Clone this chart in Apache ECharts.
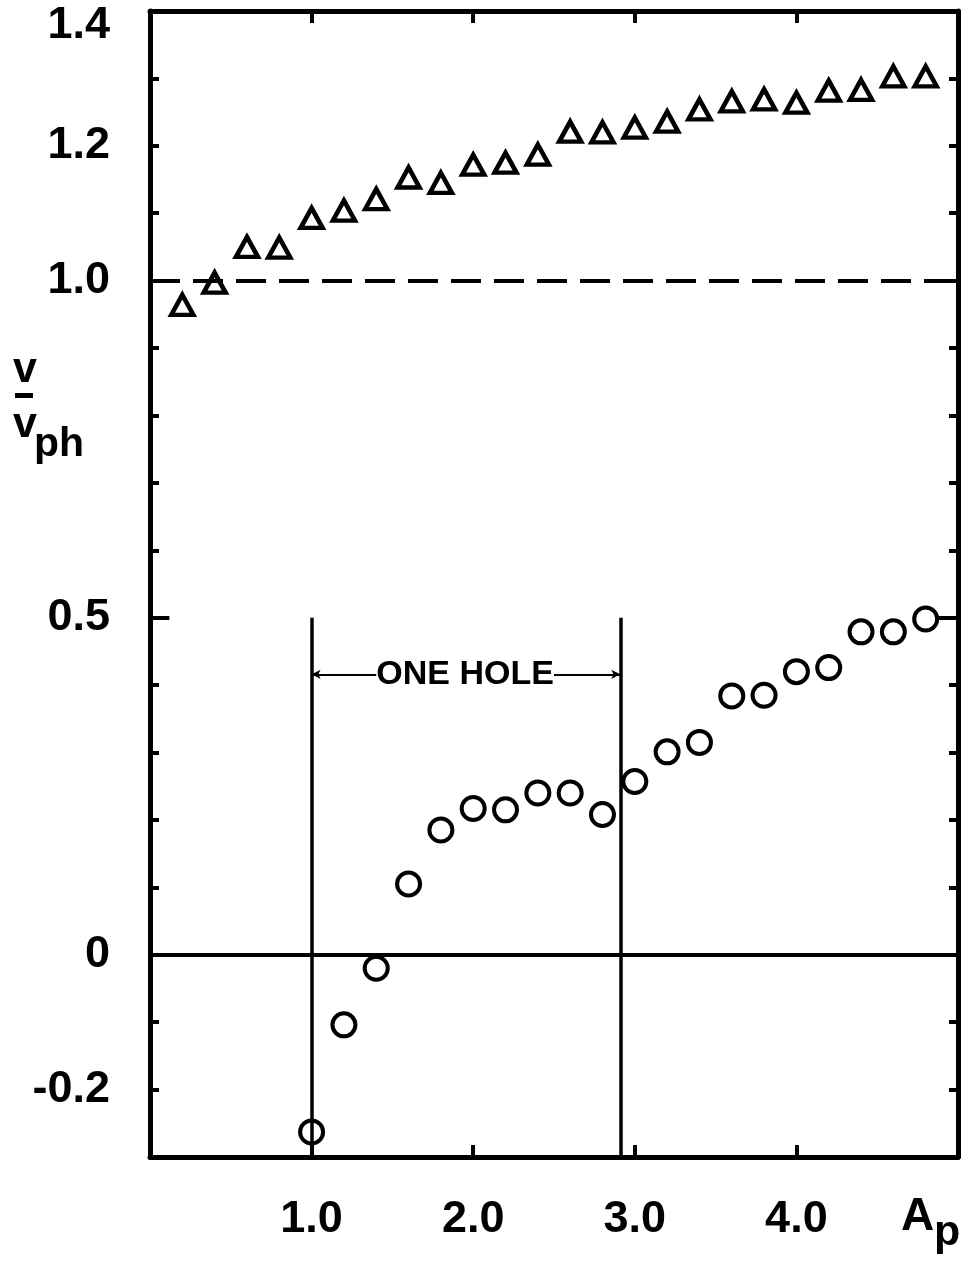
<!DOCTYPE html>
<html><head><meta charset="utf-8">
<script src="https://cdn.jsdelivr.net/npm/echarts@6/dist/echarts.min.js"></script>
<style>html,body{margin:0;padding:0;background:#fff}#c{width:961px;height:1262px}</style>
</head><body><div id="c"></div>
<script>
// ---- data ----
const triangleX = [0.2,0.4,0.6,0.8,1.0,1.2,1.4,1.6,1.8,2.0,2.2,2.4,2.6,2.8,3.0,3.2,3.4,3.6,3.8,4.0,4.2,4.4,4.6,4.8];
const triangleY = [0.964,0.997,1.050,1.049,1.093,1.104,1.121,1.153,1.145,1.172,1.175,1.187,1.221,1.220,1.227,1.236,1.254,1.266,1.269,1.264,1.282,1.283,1.303,1.303];
const circleX = [1.0,1.2,1.4,1.6,1.8,2.0,2.2,2.4,2.6,2.8,3.0,3.2,3.4,3.6,3.8,4.0,4.2,4.4,4.6,4.8];
const circleY = [-0.263,-0.104,-0.020,0.105,0.185,0.217,0.215,0.240,0.240,0.208,0.257,0.301,0.315,0.384,0.385,0.420,0.426,0.479,0.479,0.498];
const yTickLabels = [1.4,1.2,1.0,0.5,0,-0.2];
const xTickLabels = [1,2,3,4];
const holeBounds = [1.0, 2.91];
const holeTop = 0.5;
const holeArrowY = 0.416;
const holeTextX = 1.95;
const holeTextEdges = [1.40, 2.50];
const holeLabel = 'ONE HOLE';
const solidLevel = 0;
const dashedLevel = 1.0;
const longTickY = 0.5;
const longTickLen = 0.12;
const xRange = [0, 5];
const yRange = [-0.3, 1.4];

const FONT = '"Liberation Sans",Arial,sans-serif';

const chart = echarts.init(document.getElementById('c'), null, {renderer:'canvas'});
const mkLine = () => ({show:true, onZero:false, lineStyle:{color:'#000', width:5}});
const mkXTick = () => ({show:true, inside:true, length:12, customValues:xTickLabels.slice(), lineStyle:{color:'#000', width:4}});
const mkYTick = () => ({show:true, inside:true, length:9, lineStyle:{color:'#000', width:4}});

function yFmt(v){
  const r = Math.round(v*10)/10;
  if (!yTickLabels.some(t => Math.abs(t-r) < 1e-6)) return '';
  const s = Math.abs(r) < 1e-9 ? '0' : r.toFixed(1);
  return Math.abs(r-1.4) < 1e-6 ? '{top|'+s+'}' : s;
}
function xFmt(v){
  const r = Math.round(v);
  return xTickLabels.includes(r) && Math.abs(v-r) < 1e-6 ? r.toFixed(1) : '';
}

const seg = (a, b, w, startSym) => [
  {coord:a, symbol:startSym||'none', symbolSize:startSym?[7,9]:0, lineStyle:{color:'#000', width:w, type:'solid'}},
  {coord:b, symbol:'none'}
];

const option = {
  animation:false,
  backgroundColor:'#fff',
  grid:{left:150, right:3, top:11, bottom:105, containLabel:false},
  xAxis:[
    {type:'value', position:'bottom', min:xRange[0], max:xRange[1], interval:1,
     axisLine:mkLine(), axisTick:mkXTick(), splitLine:{show:false},
     axisLabel:{formatter:xFmt, margin:40, color:'#000', fontSize:45, fontWeight:'bold', fontFamily:FONT}},
    {type:'value', position:'top', min:xRange[0], max:xRange[1], interval:1,
     axisLine:mkLine(), axisTick:mkXTick(), splitLine:{show:false}, axisLabel:{show:false}}
  ],
  yAxis:[
    {type:'value', position:'left', min:yRange[0], max:yRange[1], interval:0.1,
     axisLine:mkLine(), axisTick:mkYTick(), splitLine:{show:false},
     axisLabel:{formatter:yFmt, margin:40, color:'#000', fontSize:45, fontWeight:'bold', fontFamily:FONT,
       rich:{top:{fontSize:45, fontWeight:'bold', fontFamily:FONT, color:'#000', padding:[30,0,0,0]}}}},
    {type:'value', position:'right', min:yRange[0], max:yRange[1], interval:0.1,
     axisLine:mkLine(), axisTick:mkYTick(), splitLine:{show:false}, axisLabel:{show:false}}
  ],
  series:[
    {type:'scatter', name:'guides', data:[], z:1, silent:true,
     markLine:{silent:true, animation:false, symbol:'none', label:{show:false},
       data:[
         [{coord:[xRange[0], solidLevel], symbol:'none', lineStyle:{color:'#000', width:4, type:'solid'}},{coord:[xRange[1], solidLevel], symbol:'none'}],
         [{coord:[xRange[0], dashedLevel], symbol:'none', lineStyle:{color:'#000', width:4, type:[30,13]}},{coord:[xRange[1], dashedLevel], symbol:'none'}],
         seg([holeBounds[0], holeTop], [holeBounds[0], yRange[0]], 3.5),
         seg([holeBounds[1], holeTop], [holeBounds[1], yRange[0]], 3.5),
         seg([holeBounds[0], holeArrowY], [holeTextEdges[0], holeArrowY], 2, 'arrow'),
         seg([holeBounds[1], holeArrowY], [holeTextEdges[1], holeArrowY], 2, 'arrow'),
         seg([xRange[0], longTickY], [xRange[0]+longTickLen, longTickY], 4),
         seg([xRange[1]-longTickLen, longTickY], [xRange[1], longTickY], 4)
       ]},
     markPoint:{silent:true, animation:false,
       data:[{coord:[holeTextX, holeArrowY], symbol:'rect', symbolSize:[1,1], itemStyle:{color:'rgba(0,0,0,0)'},
         label:{show:true, position:'inside', formatter:holeLabel, color:'#000', fontSize:34, fontWeight:'bold', fontFamily:FONT}}]}
    },
    {type:'scatter', name:'triangles', z:3, symbol:'triangle', symbolSize:[22,20],
     itemStyle:{color:'#fff', borderColor:'#000', borderWidth:4.5, opacity:1},
     data: triangleX.map((x,i)=>[x, triangleY[i]])},
    {type:'scatter', name:'circles', z:3, symbol:'circle', symbolSize:23,
     itemStyle:{color:'#fff', borderColor:'#000', borderWidth:4, opacity:1},
     data: circleX.map((x,i)=>[x, circleY[i]])}
  ],
  graphic:[
    {type:'text', x:13, y:370, style:{text:'v', font:'bold 43px '+FONT, fill:'#000', align:'left', verticalAlign:'middle'}},
    {type:'rect', shape:{x:15, y:393, width:18, height:5}, style:{fill:'#000'}},
    {type:'text', x:13, y:425, style:{text:'v', font:'bold 43px '+FONT, fill:'#000', align:'left', verticalAlign:'middle'}},
    {type:'text', x:34, y:445, style:{text:'ph', font:'bold 41px '+FONT, fill:'#000', align:'left', verticalAlign:'middle'}},
    {type:'text', x:901, y:1217, style:{text:'A', font:'bold 46px '+FONT, fill:'#000', align:'left', verticalAlign:'middle'}},
    {type:'text', x:934, y:1233, style:{text:'p', font:'bold 43px '+FONT, fill:'#000', align:'left', verticalAlign:'middle'}}
  ]
};
chart.setOption(option);
</script>
</body></html>
